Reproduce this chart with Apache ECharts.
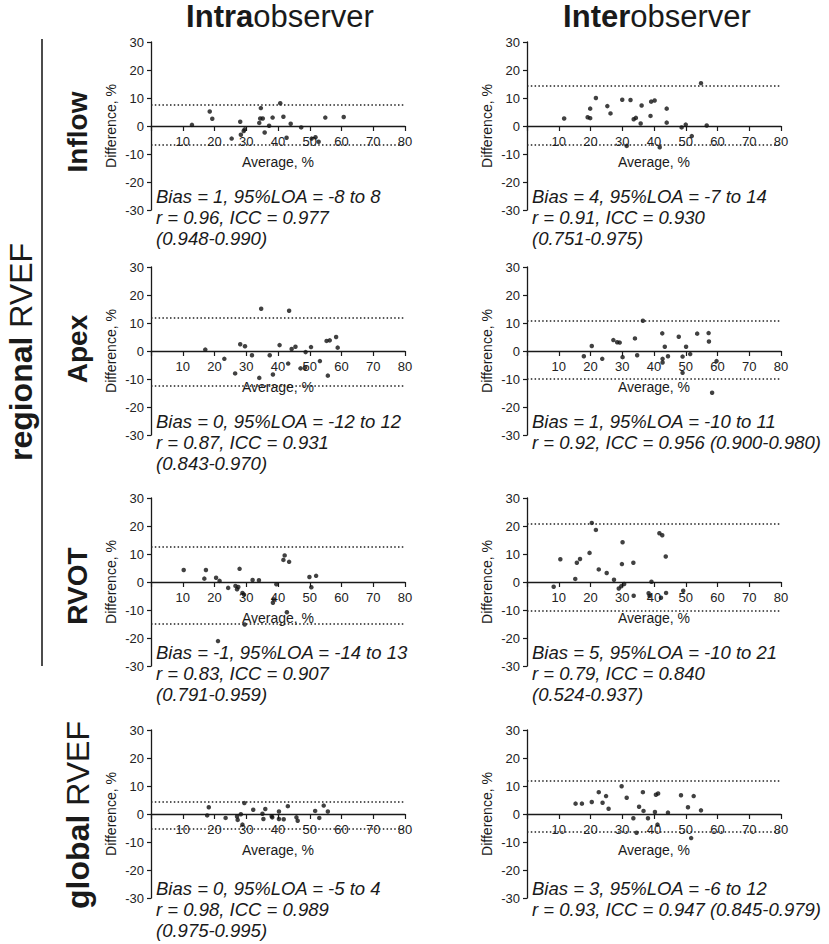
<!DOCTYPE html>
<html>
<head>
<meta charset="utf-8">
<script src="https://cdn.jsdelivr.net/npm/echarts@6/dist/echarts.min.js"></script>
<style>
html,body{margin:0;padding:0;background:#fff;}
#chart{width:829px;height:944px;}
</style>
</head>
<body>
<div id="chart"></div>
<script>
// ---------- DATA ----------
var intraInflow = [[12.9,0.4],[18.5,5.2],[19.3,2.6],[25.4,-4.5],[28.1,1.5],[28.3,-3.1],[29.2,-1.8],[29.5,-1.2],[34.1,1.1],[34.6,6.4],[34.4,2.7],[35.2,2.7],[35.8,-2.3],[37.2,0.1],[38.3,3.0],[40.7,8.1],[41.7,3.3],[42.7,-4.2],[44.0,0.8],[47.3,-0.5],[50.6,-4.5],[51.8,-4.0],[52.8,-5.6],[54.9,3.0],[60.7,3.2]];
var interInflow = [[11.7,2.7],[19.1,3.1],[19.9,2.8],[19.9,6.2],[21.7,10.0],[25.3,7.1],[26.3,4.5],[30.0,9.4],[31.4,-7.1],[32.6,9.3],[33.6,2.4],[34.3,2.9],[35.8,0.9],[36.1,7.3],[38.9,3.6],[39.1,8.7],[40.2,9.1],[41.8,-7.6],[44.0,6.2],[44.0,1.2],[48.7,-0.5],[50.0,0.5],[51.9,-3.6],[54.8,15.3],[56.6,0.2]];
var intraApex = [[17.1,0.5],[23.1,-2.8],[26.5,-8.0],[28.1,2.4],[29.6,1.7],[31.8,-1.5],[34.1,-9.6],[34.7,15.1],[37.4,-1.5],[38.4,-8.4],[40.5,2.1],[43.2,-4.5],[43.5,14.4],[44.3,0.7],[45.5,1.5],[47.1,-6.2],[48.5,-6.0],[48.7,-0.4],[50.4,1.4],[53.2,-3.6],[55.3,3.6],[56.3,3.8],[55.7,-8.8],[58.3,5.0],[58.8,1.2]];
var interApex = [[17.9,-1.9],[20.4,1.8],[23.7,-2.8],[27.2,3.9],[28.4,3.1],[29.2,3.0],[30.1,-2.2],[34.0,4.5],[34.7,-1.5],[36.5,10.8],[42.6,6.3],[42.7,-2.8],[42.7,-4.1],[43.4,1.5],[44.4,-1.9],[47.8,5.1],[49.0,-2.0],[49.0,-7.8],[50.1,1.5],[51.4,-1.1],[53.6,6.2],[57.2,6.4],[57.3,3.4],[59.7,-3.6],[58.3,-14.9]];
var intraRvot = [[10.3,4.3],[16.8,1.2],[17.3,4.3],[20.5,1.5],[21.6,0.4],[24.3,-2.1],[26.6,-1.4],[27.1,-2.6],[27.5,-1.8],[27.9,4.7],[28.8,-3.9],[29.3,-4.5],[29.5,-15.2],[32.0,0.7],[34.0,0.6],[38.4,-7.4],[38.7,-6.2],[39.5,-0.8],[41.7,7.9],[42.1,9.5],[43.5,7.2],[42.8,-10.8],[49.9,1.8],[50.5,-1.9],[52.0,2.2],[21.1,-21.1]];
var interRvot = [[8.4,-1.7],[10.5,8.1],[15.2,1.1],[15.7,6.9],[16.7,8.2],[19.7,10.4],[20.4,21.1],[21.7,18.6],[22.6,4.5],[25.1,3.2],[27.4,0.8],[28.9,-2.3],[29.7,-1.5],[29.9,6.4],[30.1,14.2],[30.6,-0.7],[33.5,6.9],[33.6,-4.9],[38.3,-4.0],[38.6,-5.0],[39.2,0.1],[41.7,17.4],[42.6,16.7],[42.2,-5.6],[43.7,9.1],[43.8,-3.9],[49.2,-3.1]];
var intraGlobal = [[17.7,-0.5],[18.2,2.4],[23.5,-1.4],[27.1,-0.9],[27.3,-2.1],[28.3,-0.1],[28.8,-3.8],[29.4,3.9],[32.2,1.5],[35.1,0.1],[35.4,-1.8],[36.0,1.8],[38.0,-0.8],[38.2,-1.2],[40.3,0.9],[40.3,-1.8],[41.8,-1.9],[43.1,2.8],[45.8,-1.2],[46.2,-2.4],[51.7,1.1],[53.0,-1.4],[54.4,3.0],[55.7,0.9]];
var interGlobal = [[15.3,3.7],[17.3,3.7],[20.4,4.3],[22.6,7.8],[23.8,4.0],[24.9,6.4],[25.7,1.9],[29.8,9.9],[31.4,5.8],[33.5,-1.5],[34.5,-6.7],[35.3,2.6],[36.5,7.8],[36.7,1.1],[38.1,-1.5],[40.3,0.7],[40.6,6.9],[41.3,7.3],[41.1,-3.8],[44.4,0.5],[48.5,6.7],[50.7,2.4],[51.7,-8.6],[52.5,6.4],[54.8,1.3]];

// order: intra inflow, inter inflow, intra apex, inter apex, intra RVOT, inter RVOT, intra global, inter global
var panelData = [intraInflow, interInflow, intraApex, interApex, intraRvot, interRvot, intraGlobal, interGlobal];
var loaUpper = [7.6, 14.4, 12.0, 10.7, 12.5, 20.7, 4.3, 11.7];
var loaLower = [-6.8, -6.8, -12.3, -9.9, -14.8, -10.3, -5.1, -6.4];
var statTexts = [
  ['Bias = 1, 95%LOA = -8 to 8', 'r = 0.96, ICC = 0.977', '(0.948-0.990)'],
  ['Bias = 4, 95%LOA = -7 to 14', 'r = 0.91, ICC = 0.930', '(0.751-0.975)'],
  ['Bias = 0, 95%LOA = -12 to 12', 'r = 0.87, ICC = 0.931', '(0.843-0.970)'],
  ['Bias = 1, 95%LOA = -10 to 11', 'r = 0.92, ICC = 0.956 (0.900-0.980)'],
  ['Bias = -1, 95%LOA = -14 to 13', 'r = 0.83, ICC = 0.907', '(0.791-0.959)'],
  ['Bias = 5, 95%LOA = -10 to 21', 'r = 0.79, ICC = 0.840', '(0.524-0.937)'],
  ['Bias = 0, 95%LOA = -5 to 4', 'r = 0.98, ICC = 0.989', '(0.975-0.995)'],
  ['Bias = 3, 95%LOA = -6 to 12', 'r = 0.93, ICC = 0.947 (0.845-0.979)']
];
var rowLabels = ['Inflow', 'Apex', 'RVOT'];
var colHeaders = [['Intra', 'observer'], ['Inter', 'observer']];
var groupLabels = [['regional', ' RVEF'], ['global', ' RVEF']];
var xAxisName = 'Average, %';
var yAxisName = 'Difference, %';
var xTicks = {min: 0, max: 80, interval: 10};
var yTicks = {min: -30, max: 30, interval: 10};

// ---------- LAYOUT ----------
var FONT = '"Liberation Sans", Arial, Helvetica, sans-serif';
var INK = '#1a1a1a';
var colLeftPx = [151, 527];
var rowTopPx = [42, 267, 498, 730];
var gridW = 254, gridH = 168;
var statOffset = [71, 71, 71, 75];
var rowLabelY = [132, 349, 586];
var groupLabelY = [352, 815];
var headerX = [280, 657];
var groupX = [21, 78];

function T(x, y, text, font, align, valign, rot, extra) {
  var st = {text: text, font: font, fill: INK, align: align, verticalAlign: valign};
  if (extra) for (var k in extra) st[k] = extra[k];
  return {type: 'text', x: x, y: y, rotation: rot || 0, silent: true, style: st};
}

var grids = [], xAxes = [], yAxes = [], series = [], graphics = [];
for (var i = 0; i < 8; i++) {
  var rowIdx = Math.floor(i / 2), colIdx = i % 2;
  var gl = colLeftPx[colIdx], gt = rowTopPx[rowIdx];
  grids.push({left: gl, top: gt, width: gridW, height: gridH});
  xAxes.push({
    gridIndex: i, type: 'value', min: xTicks.min, max: xTicks.max, interval: xTicks.interval,
    position: 'bottom', offset: -gridH / 2,
    axisLine: {onZero: false, lineStyle: {color: INK, width: 1.3}},
    axisTick: {show: true, length: 5, lineStyle: {color: INK, width: 1.2}},
    axisLabel: {margin: 9, fontSize: 13, fontFamily: FONT, color: '#222',
      formatter: function (v) { return v === 0 ? '' : String(v); }},
    splitLine: {show: false}
  });
  yAxes.push({
    gridIndex: i, type: 'value', min: yTicks.min, max: yTicks.max, interval: yTicks.interval,
    axisLine: {show: true, onZero: false, lineStyle: {color: INK, width: 1.3}},
    axisTick: {show: true, length: 4, lineStyle: {color: INK, width: 1.2}},
    axisLabel: {margin: 7, fontSize: 13, fontFamily: FONT, color: '#222'},
    splitLine: {show: false}
  });
  series.push({
    type: 'scatter', xAxisIndex: i, yAxisIndex: i, data: panelData[i],
    symbol: 'circle', symbolSize: 4.5, itemStyle: {color: '#111'}, silent: true,
    markLine: {
      silent: true, symbol: ['none', 'none'], label: {show: false},
      lineStyle: {color: '#222', type: [1.5, 2.3], width: 1.6},
      data: [{yAxis: loaUpper[i]}, {yAxis: loaLower[i]}]
    }
  });
  var y0 = gt + gridH / 2;
  graphics.push(T(gl - 40, y0, yAxisName, '14px ' + FONT, 'center', 'middle', Math.PI / 2));
  graphics.push(T(gl + gridW / 2, y0 + 36, xAxisName, '14px ' + FONT, 'center', 'middle', 0));
  graphics.push(T(gl + 5, y0 + statOffset[rowIdx] - 11, statTexts[i].join('\n'), 'italic 18.5px ' + FONT, 'left', 'top', 0, {lineHeight: 21}));
}
for (var r = 0; r < 3; r++) {
  graphics.push(T(77, rowLabelY[r], rowLabels[r], 'bold 28px ' + FONT, 'center', 'middle', Math.PI / 2));
}
graphics.push({type: 'line', silent: true, shape: {x1: 42, y1: 39, x2: 42, y2: 666}, style: {stroke: '#111', lineWidth: 1.5}});
for (var c = 0; c < 2; c++) {
  graphics.push(T(headerX[c], 16, '{b|' + colHeaders[c][0] + '}{r|' + colHeaders[c][1] + '}', '31px ' + FONT, 'center', 'middle', 0,
    {rich: {b: {fontWeight: 'bold', fontSize: 31, fontFamily: FONT}, r: {fontSize: 31, fontFamily: FONT}}}));
}
for (var g = 0; g < 2; g++) {
  graphics.push(T(groupX[g], groupLabelY[g], '{b|' + groupLabels[g][0] + '}{r|' + groupLabels[g][1] + '}', '32px ' + FONT, 'center', 'middle', Math.PI / 2,
    {rich: {b: {fontWeight: 'bold', fontSize: 32, fontFamily: FONT}, r: {fontSize: 32, fontFamily: FONT}}}));
}

var chart = echarts.init(document.getElementById('chart'), null, {renderer: 'svg'});
chart.setOption({
  animation: false, backgroundColor: '#fff',
  grid: grids, xAxis: xAxes, yAxis: yAxes, series: series,
  graphic: {elements: graphics}
});
</script>
</body>
</html>
